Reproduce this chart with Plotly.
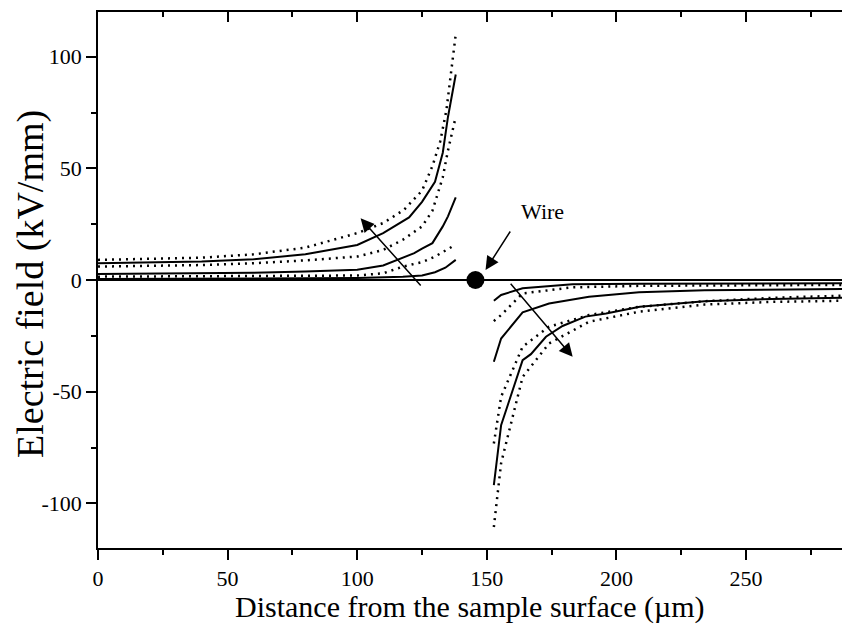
import plotly.graph_objects as go

# ---- data ----
# left side of the wire (positive field)
xl_s1 = [0, 20, 40, 60, 80, 100, 110, 120, 125, 130, 133, 135, 138]
yl_s1 = [7.5, 7.8, 8.3, 9.3, 11.5, 15.7, 21, 28, 35, 44, 57, 73, 92]
xl_d1 = [0, 20, 40, 60, 80, 100, 110, 118, 125, 129, 132, 134.4, 136, 137.9]
yl_d1 = [9, 9.4, 10, 11.5, 14.5, 21, 25.5, 31.4, 40, 51, 62, 76, 90, 109]
xl_d2 = [0, 20, 40, 60, 80, 100, 110, 117.6, 125, 129, 133, 135, 137.9]
yl_d2 = [6, 6.2, 6.7, 7.5, 8.8, 10.5, 13.5, 18, 24, 31, 46, 58, 72.6]
xl_s2 = [0, 20, 40, 60, 80, 100, 110, 117.6, 122, 125, 129, 133, 135, 138]
yl_s2 = [2.7, 2.8, 3, 3.2, 3.8, 4.6, 6.5, 9.8, 12, 14, 16.5, 24, 28.5, 37]
xl_d3 = [0, 40, 80, 100, 110, 117.6, 125, 130, 136.4]
yl_d3 = [1.5, 1.6, 1.8, 2.0, 3, 6, 8, 10.5, 14.8]
xl_s3 = [0, 40, 80, 100, 117.6, 125, 130, 134, 138]
yl_s3 = [0.4, 0.5, 0.7, 0.9, 1.4, 2, 3.5, 5.5, 9]

# right side of the wire (negative field)
xr_s1 = [152.7, 155.5, 163.8, 183, 209, 234, 260, 287]
yr_s1 = [-9.3, -6.7, -3.7, -1.9, -1.7, -1.6, -1.5, -1.5]
xr_d1 = [152.7, 155.5, 163.8, 183, 209, 234, 260, 287]
yr_d1 = [-18.4, -15.7, -6, -3.3, -2.6, -2.4, -2.3, -2.2]
xr_s2 = [152.7, 155.5, 163.8, 174, 189.4, 208.7, 234, 260, 287]
yr_s2 = [-36.6, -26.2, -14.5, -10.5, -7.5, -5.5, -4.6, -4.2, -4.0]
xr_d2 = [152.7, 155.5, 163.8, 174, 189.4, 208.7, 234, 260, 287]
yr_d2 = [-73.2, -52.3, -29.9, -20.9, -15.7, -12, -9.5, -8, -7]
xr_s3 = [152.7, 155.5, 163.8, 167, 172.8, 179.2, 188, 196, 209, 234, 260, 287]
yr_s3 = [-91.9, -65, -35.9, -33.2, -25.4, -20.6, -16.4, -15, -12, -9.5, -8.5, -8.0]
xr_d3 = [152.7, 155.5, 163.8, 174, 189.4, 208.7, 234, 260, 287]
yr_d3 = [-110.6, -82, -43.4, -28.4, -18.7, -14.2, -11, -9.8, -9.3]

wire_x = [145.6]
wire_y = [0]

x_ticks = [0, 50, 100, 150, 200, 250]
y_ticks = [-100, -50, 0, 50, 100]
x_range = [0, 287]
y_range = [-120, 120]

FONT = "Liberation Serif"

fig = go.Figure()

solid = dict(color="black", width=2)
dotted = dict(color="black", width=2.5, dash="2px,5px")

series = [
    (xl_s1, yl_s1, solid), (xl_d1, yl_d1, dotted), (xl_d2, yl_d2, dotted),
    (xl_s2, yl_s2, solid), (xl_d3, yl_d3, dotted), (xl_s3, yl_s3, solid),
    (xr_s1, yr_s1, solid), (xr_d1, yr_d1, dotted), (xr_s2, yr_s2, solid),
    (xr_d2, yr_d2, dotted), (xr_s3, yr_s3, solid), (xr_d3, yr_d3, dotted),
]
for xs, ys, ln in series:
    fig.add_trace(go.Scatter(x=xs, y=ys, mode="lines", line=ln,
                             showlegend=False, hoverinfo="skip"))

fig.add_trace(go.Scatter(x=wire_x, y=wire_y, mode="markers",
                         marker=dict(size=18, color="black", symbol="circle"),
                         showlegend=False, hoverinfo="skip"))

# invisible trace to activate the top mirror axis
fig.add_trace(go.Scatter(x=[x_range[0]], y=[0], xaxis="x2", mode="markers",
                         marker=dict(opacity=0), showlegend=False,
                         hoverinfo="skip"))

arrow = dict(showarrow=True, arrowhead=2, arrowsize=1.8, arrowwidth=1.5,
             arrowcolor="black", axref="x", ayref="y", xref="x", yref="y",
             text="", standoff=0, startstandoff=0)
fig.add_annotation(x=101.3, y=27.6, ax=125, ay=-3.1, **arrow)
fig.add_annotation(x=183.1, y=-34.4, ax=158.7, ay=-1, **arrow)
fig.add_annotation(x=149.5, y=4.5, ax=159.4, ay=22.4, **arrow)
fig.add_annotation(x=171.4, y=30.5, text="Wire", showarrow=False,
                   xref="x", yref="y",
                   font=dict(family=FONT, size=22, color="black"))

# axis titles
fig.add_annotation(text="Distance from the sample surface (µm)",
                   xref="paper", yref="paper", x=0.5, y=0,
                   xanchor="center", yanchor="middle", yshift=-59,
                   showarrow=False,
                   font=dict(family=FONT, size=30, color="black"))
fig.add_annotation(text="Electric field (kV/mm)", textangle=-90,
                   xref="paper", yref="paper", x=0, y=0.5,
                   xanchor="center", yanchor="middle", xshift=-68, yshift=-4,
                   showarrow=False,
                   font=dict(family=FONT, size=38, color="black"))

fig.update_layout(
    width=842, height=624,
    margin=dict(l=98, r=0, t=12, b=76),
    plot_bgcolor="white", paper_bgcolor="white",
    font=dict(family=FONT, color="black"),
    xaxis=dict(
        range=x_range, tickvals=x_ticks, ticktext=[str(v) for v in x_ticks],
        showgrid=False, zeroline=False, automargin=False,
        showline=True, linecolor="black", linewidth=1.5,
        ticks="outside", ticklen=10, tickwidth=1.5, tickcolor="black",
        minor=dict(ticks="outside", ticklen=5, tickwidth=1.5,
                   tickcolor="black", dtick=25, tick0=0),
        tickfont=dict(family=FONT, size=22, color="black"),
    ),
    xaxis2=dict(
        range=x_range, overlaying="x", side="top", matches="x",
        showgrid=False, zeroline=False, showticklabels=False,
        showline=True, linecolor="black", linewidth=1.5,
        tickvals=x_ticks, automargin=False,
        ticks="inside", ticklen=10, tickwidth=1.5, tickcolor="black",
        minor=dict(ticks="inside", ticklen=5, tickwidth=1.5,
                   tickcolor="black", dtick=25, tick0=0),
    ),
    yaxis=dict(
        range=y_range, tickvals=y_ticks, ticktext=[str(v) for v in y_ticks],
        showgrid=False, automargin=False,
        zeroline=True, zerolinecolor="black", zerolinewidth=2,
        showline=True, linecolor="black", linewidth=1.5,
        ticks="outside", ticklen=10, tickwidth=1.5, tickcolor="black",
        minor=dict(ticks="outside", ticklen=5, tickwidth=1.5,
                   tickcolor="black", dtick=25, tick0=0),
        tickfont=dict(family=FONT, size=22, color="black"),
    ),
)

fig.write_html(
    "out.html",
    config={"displayModeBar": False},
    post_script="document.body.style.margin='0';"
                "document.body.style.overflow='hidden';",
)
